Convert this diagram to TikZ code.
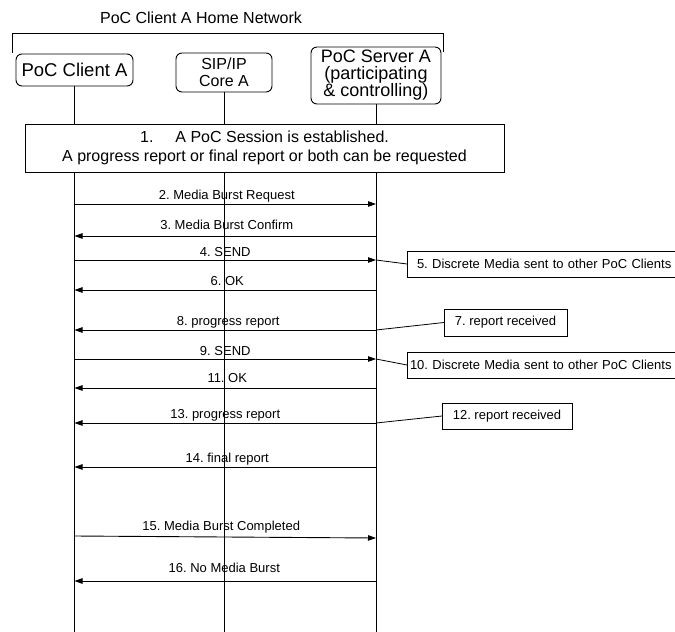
\documentclass[tikz,border=0pt]{standalone}
\usepackage{fontspec}
\setmainfont{Liberation Sans}
\usetikzlibrary{arrows.meta}
\frenchspacing
\begin{document}
\begin{tikzpicture}[x=1pt,y=-1pt,
  every node/.style={inner sep=0pt, outer sep=0pt},
  ent/.style={draw, rounded corners=6pt, fill=white, line width=0.9pt, align=center},
  lbl/.style={font=\fontsize{13}{15}\selectfont},
  msg/.style={line width=0.9pt, -{Triangle[length=8pt,width=5.5pt]}},
  note/.style={draw, fill=white, line width=0.9pt, font=\fontsize{13}{15}\selectfont},
  link/.style={line width=0.8pt},
  life/.style={line width=0.9pt}]
\useasboundingbox (0,0) rectangle (675,632);
\clip (0,0) rectangle (675,632);
\coordinate (bottom) at (0,632);

% title and bracket
\node[font=\fontsize{16}{18}\selectfont] (title) at (201,18) {PoC Client A Home Network};
\coordinate (bl) at (12,53);
\coordinate (br) at (443,52);
\draw[line width=0.8pt] (bl) -- ++(0,-20) -| (br);

% entities
\node[ent, minimum width=117pt, minimum height=32pt, font=\fontsize{18.5}{20}\selectfont] (client) at (74.5,70) {PoC Client A};
\node[ent, minimum width=96pt, minimum height=39pt, font=\fontsize{16}{16.5}\selectfont] (sip) at (224,72.5) {SIP/IP\\Core A};
\node[ent, minimum width=130pt, minimum height=57pt, font=\fontsize{18}{17}\selectfont] (server) at (376,75.5) {PoC Server A\\(participating\\\& controlling)};

% lifelines
\draw[life] (client.south) -- (client.south |- bottom);
\draw[life] (sip.south) -- (sip.south |- bottom);
\draw[life] (server.south) -- (server.south |- bottom);

% step 1
\node[draw, fill=white, line width=0.9pt, minimum width=479pt, minimum height=48pt, align=center,
      font=\fontsize{16}{19}\selectfont] (s1) at (264.5,148)
  {1.\hspace{22pt}A PoC Session is established.\\A progress report or final report or both can be requested};

% message coordinates
\foreach \n/\y in {2/204,3/236,4/260,6/290,8/330,9/359,11/388,13/423,14/467,16/581}{
  \coordinate (c\n) at (client.south |- 0,\y);
  \coordinate (s\n) at (server.south |- 0,\y);
}
\coordinate (c15) at (client.south |- 0,536);
\coordinate (s15) at (server.south |- 0,538);

\draw[msg] (c2) -- (s2) node[lbl, pos=0.5, yshift=8pt, xshift=1.5pt] (l2) {2. Media Burst Request};
\draw[msg] (s3) -- (c3) node[lbl, pos=0.5, yshift=11pt, xshift=1.5pt] (l3) {3. Media Burst Confirm};
\draw[msg] (c4) -- (s4) node[lbl, pos=0.5, yshift=8pt] (l4) {4. SEND};
\draw[msg] (s6) -- (c6) node[lbl, pos=0.5, yshift=9pt, xshift=2pt] (l6) {6. OK};
\draw[msg] (s8) -- (c8) node[lbl, pos=0.5, yshift=8pt, xshift=3pt] (l8) {8. progress report};
\draw[msg] (c9) -- (s9) node[lbl, pos=0.5, yshift=8pt] (l9) {9. SEND};
\draw[msg] (s11) -- (c11) node[lbl, pos=0.5, yshift=10pt, xshift=2pt] (l11) {11. OK};
\draw[msg] (s13) -- (c13) node[lbl, pos=0.5, yshift=8pt] (l13) {13. progress report};
\draw[msg] (s14) -- (c14) node[lbl, pos=0.5, yshift=8pt, xshift=2pt] (l14) {14. final report};
\draw[msg] (c15) -- (s15) node[lbl, pos=0.5, yshift=10pt, xshift=-4pt] (l15) {15. Media Burst Completed};
\draw[msg] (s16) -- (c16) node[lbl, pos=0.5, yshift=13pt, xshift=-1pt] (l16) {16. No Media Burst};

% notes
\node[note, anchor=west, minimum height=26pt, text width=270pt, inner xsep=10pt, align=left] (n5) at (407,264)
  {5. Discrete Media sent to other PoC Clients};
\node[note, minimum width=123pt, minimum height=27pt] (n7) at (505.5,322.5) {7. report received};
\node[note, anchor=west, minimum height=26pt, text width=280pt, inner xsep=3pt, align=left] (n10) at (407,365)
  {10. Discrete Media sent to other PoC Clients};
\node[note, minimum width=130pt, minimum height=26pt] (n12) at (507,416) {12. report received};

\draw[link] (s4) -- (n5.west);
\draw[link] (s8) -- (n7.west);
\draw[link] (s9) -- (n10.west);
\draw[link] (s13) -- (n12.west);
\end{tikzpicture}
\end{document}
